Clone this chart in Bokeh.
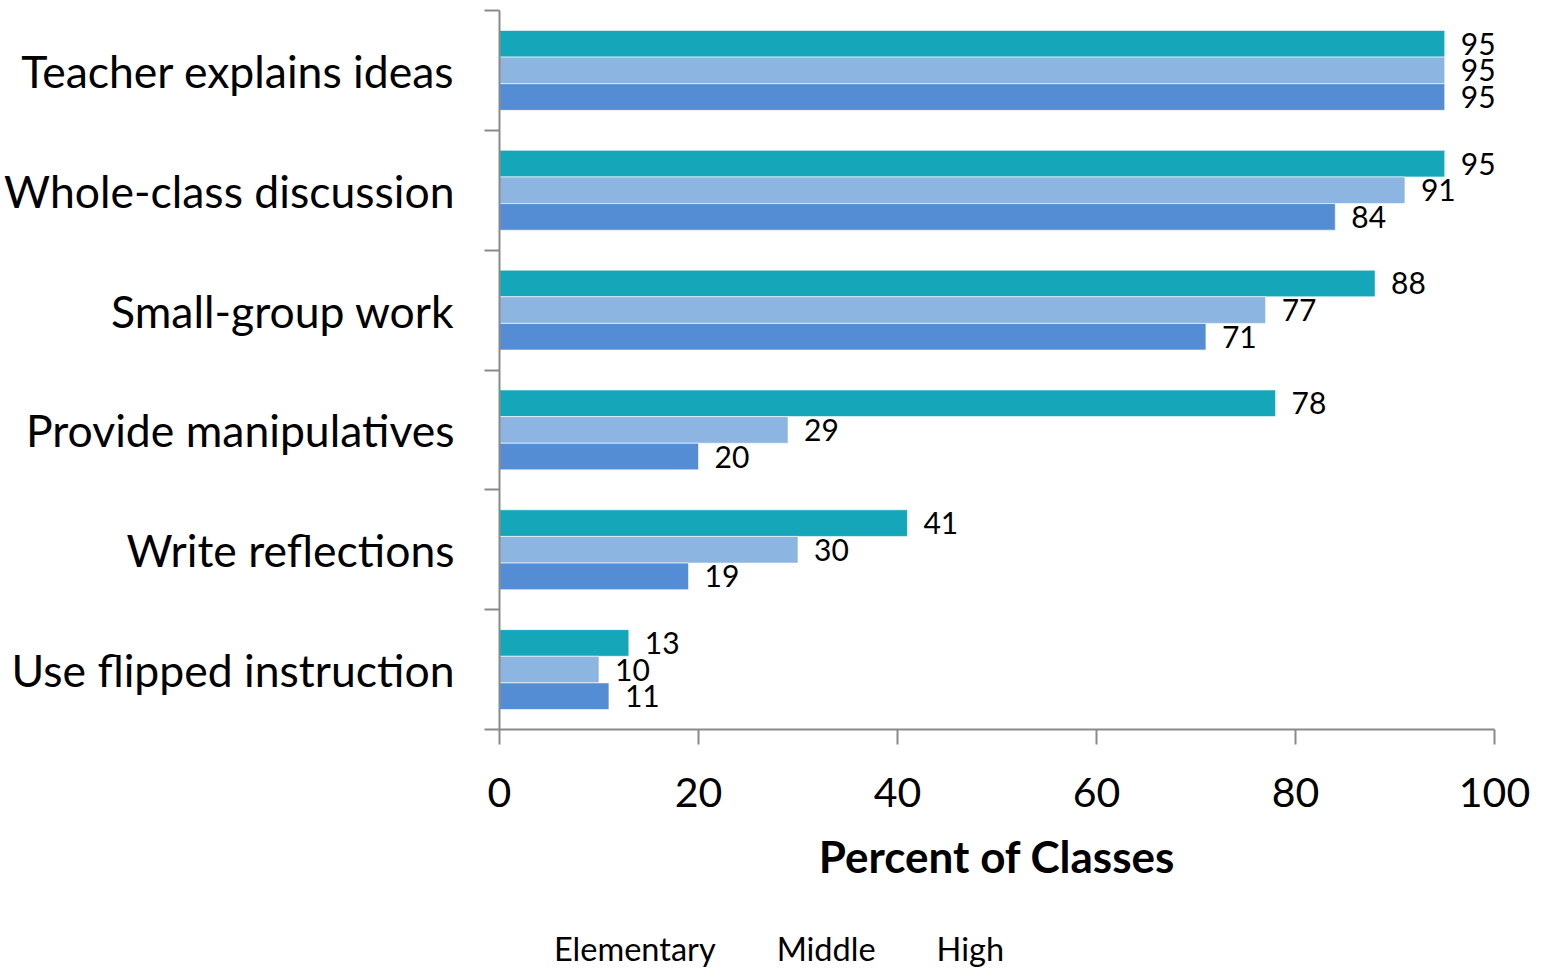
from bokeh.plotting import figure
from bokeh.layouts import column
from bokeh.models import FixedTicker, Range1d, Legend, LegendItem, CDSView, IndexFilter
from bokeh.embed import file_html
from bokeh.resources import INLINE
from bokeh.core.properties import value

categories = ["Teacher explains ideas", "Whole-class discussion", "Small-group work",
              "Provide manipulatives", "Write reflections", "Use flipped instruction"]
series_names = ["Elementary", "Middle", "High"]
elementary = [95, 95, 88, 78, 41, 13]
middle = [95, 91, 77, 29, 30, 10]
high = [95, 84, 71, 20, 19, 11]
x_ticks = [0, 20, 40, 60, 80, 100]
colors = ["#15A6BA", "#8DB5E1", "#548DD4"]

FONT = "Lato"
AXIS_COLOR = "#8a8a8a"

n = len(categories)
centers = [n - i - 0.5 for i in range(n)]
bar_h = 2.0 / 9.0

p = figure(frame_width=995, frame_height=719, x_range=Range1d(0, 100), y_range=Range1d(0, n),
           output_backend="svg", toolbar_location=None,
           min_border_left=499, min_border_right=52, min_border_top=10, min_border_bottom=200)
p.outline_line_color = None
p.xgrid.grid_line_color = None
p.ygrid.grid_line_color = None
p.background_fill_color = "white"
p.border_fill_color = "white"

# legend strip below the chart (frames aligned with the chart above)
p2 = figure(frame_width=995, frame_height=40, x_range=Range1d(0, 100), y_range=Range1d(-2, -1),
            output_backend="svg", toolbar_location=None, x_axis_type=None, y_axis_type=None,
            min_border_left=499, min_border_right=52, min_border_top=0, min_border_bottom=0)
p2.outline_line_color = None
p2.xgrid.grid_line_color = None
p2.ygrid.grid_line_color = None
p2.background_fill_color = "white"
p2.border_fill_color = "white"

legend_renderers = []
for j, (vals, col) in enumerate(zip([elementary, middle, high], colors)):
    ys = [c + (1 - j) * bar_h for c in centers]
    p.hbar(y=ys, left=0, right=vals, height=bar_h, fill_color=col,
           line_color="white", line_width=1, line_alpha=0.6)
    p.text(x=vals, y=ys, text=[str(v) for v in vals], x_offset=16,
           text_baseline="middle", text_align="left",
           text_font=value(FONT), text_font_size="30px", text_color="black")
    # legend-only renderer: same series, but its view shows no rows
    lr = p2.hbar(y=ys, left=0, right=vals, height=bar_h, fill_color=col, line_color=None,
                 view=CDSView(filter=IndexFilter(indices=[])))
    legend_renderers.append(lr)

# y axis: labels at centers, ticks at boundaries
p.yaxis.ticker = FixedTicker(ticks=centers, minor_ticks=list(range(n + 1)))
p.yaxis.major_label_overrides = {c: cat for c, cat in zip(centers, categories)}
p.yaxis.major_tick_line_color = None
p.yaxis.major_tick_out = 0
p.yaxis.major_tick_in = 0
p.yaxis.minor_tick_out = 15
p.yaxis.minor_tick_in = 0
p.yaxis.minor_tick_line_color = AXIS_COLOR
p.yaxis.minor_tick_line_width = 2
p.yaxis.axis_line_color = AXIS_COLOR
p.yaxis.axis_line_width = 2
p.yaxis.major_label_standoff = 30
p.yaxis.major_label_text_font = FONT
p.yaxis.major_label_text_font_size = "44.5px"
p.yaxis.major_label_text_color = "black"

# x axis
p.xaxis.ticker = FixedTicker(ticks=x_ticks, minor_ticks=[])
p.xaxis.major_tick_out = 15
p.xaxis.major_tick_in = 0
p.xaxis.major_tick_line_color = AXIS_COLOR
p.xaxis.major_tick_line_width = 2
p.xaxis.axis_line_color = AXIS_COLOR
p.xaxis.axis_line_width = 2
p.xaxis.major_label_standoff = 33
p.xaxis.major_label_text_font = FONT
p.xaxis.major_label_text_font_size = "41px"
p.xaxis.major_label_text_color = "black"
p.xaxis.axis_label = "Percent of Classes"
p.xaxis.axis_label_text_font = FONT
p.xaxis.axis_label_text_font_style = "bold"
p.xaxis.axis_label_text_font_size = "44px"
p.xaxis.axis_label_text_color = "black"
p.xaxis.axis_label_standoff = 20

legend = Legend(items=[LegendItem(label=s, renderers=[r]) for s, r in zip(series_names, legend_renderers)],
                orientation="horizontal", location=(25, 1),
                glyph_width=24, glyph_height=24, label_standoff=6, spacing=31,
                padding=0, margin=0, border_line_color=None, background_fill_alpha=0,
                label_text_font=FONT, label_text_font_size="32.5px", label_text_color="black")
p2.add_layout(legend, "center")

layout = column(p, p2, spacing=0)
open("out.html", "w").write(file_html(layout, INLINE))
